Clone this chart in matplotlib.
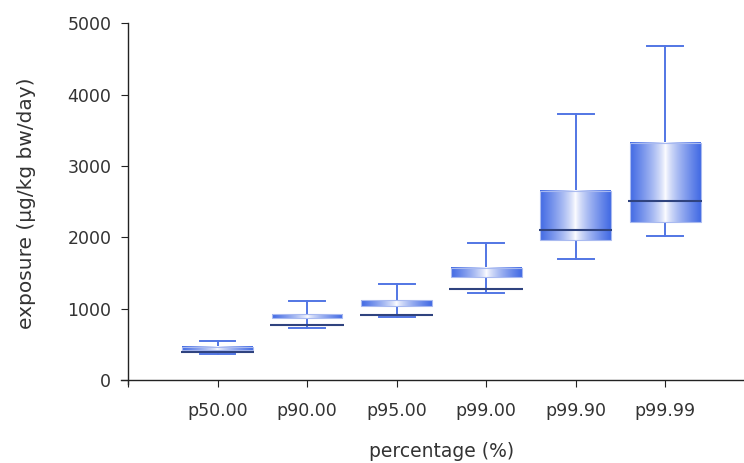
import numpy as np
import matplotlib.pyplot as plt

categories = ['p50.00', 'p90.00', 'p95.00', 'p99.00', 'p99.90', 'p99.99']
whisker_low = [364, 724, 887, 1223, 1695, 2013]
box_low = [415, 873, 1032, 1438, 1961, 2209]
center_line = [387, 775, 910, 1270, 2101, 2507]
box_high = [467, 920, 1116, 1573, 2651, 3324]
whisker_high = [551, 1111, 1340, 1919, 3725, 4678]

plt.rcParams['font.family'] = ['DejaVu Sans']
text_col = '#333333'

fig = plt.figure(figsize=(7.44, 4.63), dpi=100)
ax = fig.add_axes([0.1624, 0.170, 0.8376, 0.780])

pos = np.arange(1, len(categories) + 1)
stats = []
for i, name in enumerate(categories):
    stats.append({'label': name, 'whislo': whisker_low[i], 'q1': box_low[i],
                  'med': center_line[i], 'q3': box_high[i], 'whishi': whisker_high[i]})

ax.bxp(stats, positions=pos, widths=0.82, showbox=False, showfliers=False,
       whiskerprops=dict(color='#5276e4', lw=1.4),
       capprops=dict(color='#5276e4', lw=1.4),
       medianprops=dict(color='#2f437f', lw=1.5, zorder=4),
       capwidths=0.4, manage_ticks=False)

# horizontal gradient: blue at the edges, white in the middle
g = np.abs(np.linspace(-1, 1, 256)) ** 0.75
rgb0 = np.array([66, 106, 228]) / 255.0
grad = 1 - g[:, None] * (1 - rgb0[None, :])
grad = grad[None, :, :]
half = 0.79 / 2
for i, p in enumerate(pos):
    ax.imshow(grad, extent=[p - half, p + half, box_low[i], box_high[i]],
              aspect='auto', zorder=3, interpolation='bilinear')
    ax.add_patch(plt.Rectangle((p - half, box_low[i]), 2 * half, box_high[i] - box_low[i],
                               fill=False, ec='#a9baf0', lw=0.8, zorder=3))

ax.set_xlim(-0.08, 6.88)
ax.set_ylim(-60, 5000)
ax.spines['top'].set_visible(False)
ax.spines['right'].set_visible(False)
ax.spines['left'].set_position(('data', 0))
ax.spines['bottom'].set_position(('data', 0))
for s in ('left', 'bottom'):
    ax.spines[s].set_color('#222222')
    ax.spines[s].set_linewidth(1.0)

ax.set_xticks(np.arange(0, 7))
ax.set_xticklabels([''] + categories)
ax.set_yticks(np.arange(0, 5001, 1000))
ax.tick_params(axis='x', direction='out', length=5, pad=11, labelsize=12.5, colors=text_col)
ax.tick_params(axis='y', direction='out', length=5, pad=7, labelsize=12.5, colors=text_col)
ax.tick_params(color='#222222')

fig.text(0.035, 0.560, 'exposure (µg/kg bw/day)', rotation=90, ha='center', va='center',
         fontsize=14.5, color=text_col)
fig.text(0.593, 0.013, 'percentage (%)', ha='center', va='baseline', fontsize=13.5,
         color=text_col)

fig.savefig('out.png', dpi=100)
